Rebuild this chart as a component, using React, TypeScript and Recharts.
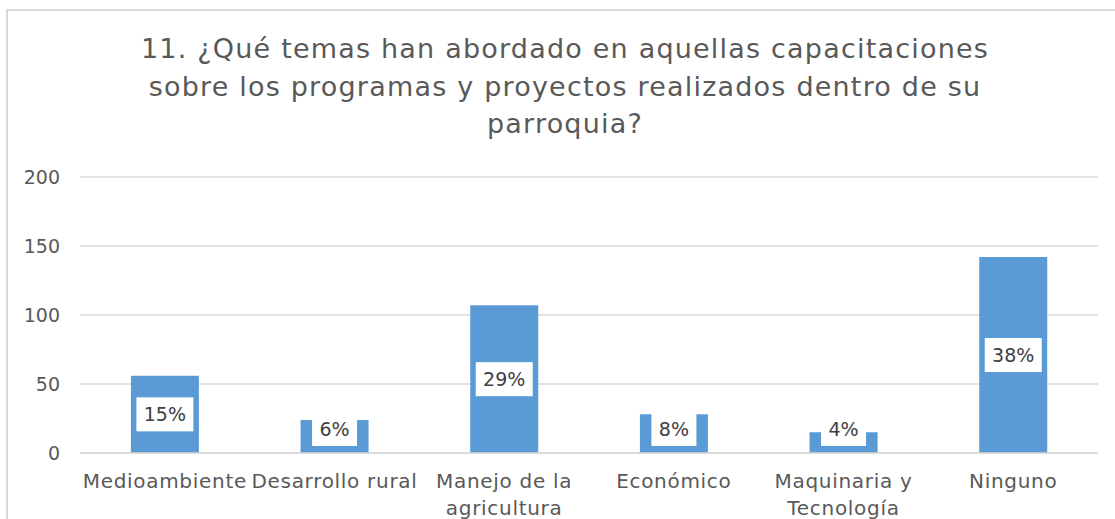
import React from 'react';
import { BarChart, Bar, XAxis, YAxis, CartesianGrid, LabelList, Text } from 'recharts';

const categories = [
  'Medioambiente',
  'Desarrollo rural',
  'Manejo de la agricultura',
  'Económico',
  'Maquinaria y Tecnología',
  'Ninguno',
];
const counts = [56, 24, 107, 28, 15, 142];
const percentLabels = ['15%', '6%', '29%', '8%', '4%', '38%'];
const yTicks = [0, 50, 100, 150, 200];
const titleLines = [
  '11. ¿Qué temas han abordado en aquellas capacitaciones',
  'sobre los programas y proyectos realizados dentro de su',
  'parroquia?',
];

const font = '"DejaVu Sans", sans-serif';
const grey = '#595959';

const data = categories.map((name, i) => ({
  name,
  value: counts[i],
  pct: percentLabels[i],
}));

// wrapped category label under the axis
const CategoryTick = (props: any) => {
  const { x, y, payload } = props;
  return (
    <Text
      x={x}
      y={y + 21}
      width={168}
      textAnchor='middle'
      verticalAnchor='start'
      lineHeight={27}
      fill={grey}
      style={{ fontSize: 20, fontFamily: font, letterSpacing: 0.7 }}
    >
      {payload.value}
    </Text>
  );
};

// white box with the percentage, centred in the bar (kept low on short bars)
const PctLabel = (props: any) => {
  const vb = props.viewBox && props.viewBox.width != null ? props.viewBox : props;
  const x = Number(vb.x);
  const y = Number(vb.y);
  const w = Number(vb.width);
  const h = Number(vb.height);
  const label = String(props.value);
  const bottom = y + h;
  const cy = Math.min(y + h / 2, bottom - 24);
  const cx = x + w / 2;
  const boxW = (label.length - 1) * 12 + 33;
  const boxH = 34;
  return (
    <g>
      <rect x={cx - boxW / 2} y={cy - boxH / 2} width={boxW} height={boxH} fill='#ffffff' />
      <text
        x={cx}
        y={cy}
        textAnchor='middle'
        dominantBaseline='central'
        fill='#404040'
        style={{ fontSize: 19, fontFamily: font }}
      >
        {label}
      </text>
    </g>
  );
};

export default function App() {
  return (
    <div
      style={{
        position: 'fixed',
        left: 0,
        top: 0,
        width: 1115,
        height: 519,
        overflow: 'hidden',
        background: '#fff',
        fontFamily: font,
      }}
    >
      <div
        style={{
          position: 'absolute',
          left: 6,
          top: 9,
          width: 1200,
          height: 600,
          border: '2px solid #d9d9d9',
        }}
      />
      <div
        style={{
          position: 'absolute',
          left: 0,
          top: 30,
          width: 1130,
          textAlign: 'center',
          color: grey,
          fontSize: 27,
          letterSpacing: 1.2,
          lineHeight: '37.5px',
        }}
      >
        {titleLines.map((line) => (
          <div key={line}>{line}</div>
        ))}
      </div>
      <div style={{ position: 'absolute', left: 0, top: 0 }}>
        <BarChart
          width={1115}
          height={519}
          data={data}
          margin={{ top: 177, right: 17, bottom: 0, left: 8 }}
          barCategoryGap='30%'
        >
          <CartesianGrid vertical={false} stroke='#d9d9d9' strokeWidth={1.5} />
          <XAxis
            dataKey='name'
            height={66}
            axisLine={{ stroke: '#d9d9d9', strokeWidth: 1.5 }}
            tickLine={false}
            tickSize={0}
            tickMargin={0}
            interval={0}
            tick={<CategoryTick />}
          />
          <YAxis
            width={72}
            domain={[0, 200]}
            ticks={yTicks}
            axisLine={false}
            tickLine={false}
            tickSize={0}
            tickMargin={20}
            tick={{ fill: grey, fontSize: 19, fontFamily: font }}
          />
          <Bar dataKey='value' fill='#5b9bd5' isAnimationActive={false}>
            <LabelList dataKey='pct' content={<PctLabel />} />
          </Bar>
        </BarChart>
      </div>
    </div>
  );
}
